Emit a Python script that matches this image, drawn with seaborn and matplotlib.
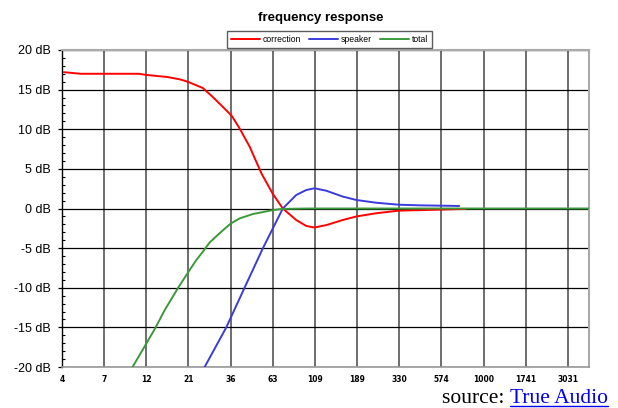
import matplotlib
matplotlib.use("Agg")
import matplotlib.pyplot as plt
from matplotlib.ticker import MultipleLocator, NullLocator
from matplotlib.lines import Line2D
import numpy as np
import pandas as pd
import seaborn as sns

# values (Hz, dB)
correction_hz = [4.0, 5.0, 6.4, 8.4, 10.7, 11.9, 15.5, 18.4, 20.4, 24.9, 28.3, 32.3, 36.4, 40.4,
                 46.1, 53.9, 62.3, 71.3, 85, 97, 108, 126, 157, 188, 243, 327, 446, 792]
correction_db = [17.2, 17.0, 17.0, 17.0, 17.0, 16.85, 16.6, 16.3, 16.0, 15.2, 14.1, 12.85, 11.7, 10.1,
                 7.8, 4.4, 1.9, 0.0, -1.45, -2.2, -2.4, -2.1, -1.45, -1.0, -0.6, -0.27, -0.2, -0.05]

speaker_hz = [25.5, 33.9, 43.1, 54.9, 71.3, 85, 97, 108, 126, 157, 188, 243, 327, 429, 725]
speaker_db = [-20, -15, -10, -5, 0.0, 1.7, 2.33, 2.55, 2.25, 1.5, 1.07, 0.73, 0.48, 0.4, 0.32]

total_hz = [9.88, 11.87, 13.24, 15.1, 18.0, 20.6, 22.7, 25.0, 27.2, 31.1, 35.9, 40.4, 48.1,
            62.5, 71.3, 100, 4000]
total_db = [-20, -17.0, -15.2, -12.8, -10.0, -8.0, -6.6, -5.4, -4.3, -3.1, -1.9, -1.25, -0.7,
            -0.2, -0.05, 0.0, 0.0]

xtick_hz = [1000 * 2 ** (0.8 * k) for k in range(-10, 3)]
xtick_labels = ["4", "7", "12", "21", "36", "63", "109", "189", "330", "574", "1000", "1741", "3031"]
ytick_db = [-20, -15, -10, -5, 0, 5, 10, 15, 20]
ytick_labels = [f"{v} dB" for v in ytick_db]

series = ["correction", "speaker", "total"]
colors = ["#ff0000", "#3b3bdc", "#3a9a3a"]

df = pd.concat([
    pd.DataFrame({"hz": correction_hz, "db": correction_db, "series": "correction"}),
    pd.DataFrame({"hz": speaker_hz, "db": speaker_db, "series": "speaker"}),
    pd.DataFrame({"hz": total_hz, "db": total_db, "series": "total"}),
])

sns.set_theme(style="white")
plt.rcParams["font.family"] = ["Liberation Sans", "DejaVu Sans"]
plt.rcParams["text.color"] = "black"
plt.rcParams["xtick.color"] = "black"
plt.rcParams["ytick.color"] = "black"

fig = plt.figure(figsize=(6.18, 4.08), dpi=100)
W, H = 618, 408
ax = fig.add_axes([62 / W, 1 - 367 / H, (589 - 62) / W, (367 - 50) / H])

sns.lineplot(data=df, x="hz", y="db", hue="series", hue_order=series,
             palette=colors, linewidth=1.4, sort=True, estimator=None,
             legend=False, ax=ax, zorder=3)

ax.set_xscale("log", base=2)
ax.set_xlim(1000 * 2 ** -8, 4000)
ax.set_ylim(-20, 20)
ax.set_xticks(xtick_hz)
ax.set_xticklabels(xtick_labels, fontsize=5.5, fontweight="bold", family="DejaVu Sans")
ax.xaxis.set_minor_locator(NullLocator())
ax.set_yticks(ytick_db)
ax.set_yticklabels(ytick_labels, fontsize=9)
ax.yaxis.set_minor_locator(MultipleLocator(1))
ax.tick_params(axis="x", which="both", length=0, pad=6)
ax.tick_params(axis="y", which="major", direction="out", length=3, width=0.9,
               pad=5, left=True)
ax.tick_params(axis="y", which="minor", direction="in", length=2.2, width=0.8, left=True)
ax.set_xlabel("")
ax.set_ylabel("")

ax.grid(True, axis="x", which="major", color="#555555", linewidth=1.2)
ax.grid(True, axis="y", which="major", color="black", linewidth=0.9)

for side in ["top", "right"]:
    ax.spines[side].set_color("#aaaaaa")
    ax.spines[side].set_linewidth(1.5)
ax.spines["bottom"].set_color("#999999")
ax.spines["bottom"].set_linewidth(1.2)
ax.spines["left"].set_color("black")
ax.spines["left"].set_linewidth(1.0)

fig.text(321 / W, 1 - 18.5 / H, "frequency response", ha="center", va="center",
         fontsize=9.5, fontweight="bold")

handles = [Line2D([], [], color=c, lw=1.4) for c in colors]
leg = fig.legend(handles, series, loc="center", bbox_to_anchor=(329.5 / W, 1 - 39.5 / H),
                 ncol=3, fontsize=6.2, frameon=True, fancybox=False, handlelength=3.4,
                 handletextpad=0.3, columnspacing=0.9, borderpad=0.45, borderaxespad=0)
leg.get_frame().set_edgecolor("#333333")
leg.get_frame().set_linewidth(1.0)

# "source: True Audio" with the link part underlined
link = fig.text(608 / W, 1 - 403 / H, "True Audio", ha="right", va="baseline",
                fontsize=15.5, color="#0000ee", family="Liberation Serif")
renderer = fig.canvas.get_renderer()
bb = link.get_window_extent(renderer).transformed(fig.transFigure.inverted())
fig.text(bb.x0, 1 - 403 / H, "source: ", ha="right", va="baseline",
         fontsize=15.5, color="black", family="Liberation Serif")
uy = 1 - 405.5 / H
fig.add_artist(Line2D([bb.x0, bb.x1], [uy, uy], color="#0000ee", lw=1.0,
                      transform=fig.transFigure))

fig.savefig("out.png", dpi=100, facecolor="white")
